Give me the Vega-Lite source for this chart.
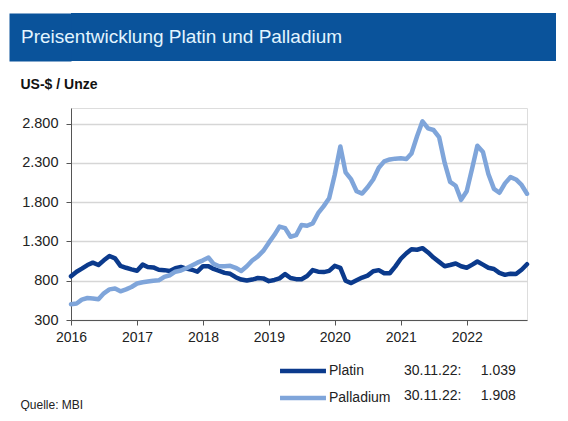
{
  "$schema": "https://vega.github.io/schema/vega-lite/v6.json",
  "background": "white",
  "padding": {"left": 8, "top": 13, "right": 0, "bottom": 0},
  "config": {
    "font": "Liberation Sans",
    "locale": {"number": {"decimal": ",", "thousands": ".", "grouping": [3], "currency": ["", ""]}},
    "concat": {"spacing": 15}
  },
  "datasets": {
    "kurse": [
      {"monat": "2016-01-01", "Platin": 856, "Palladium": 500},
      {"monat": "2016-02-01", "Platin": 915, "Palladium": 510},
      {"monat": "2016-03-01", "Platin": 955, "Palladium": 560},
      {"monat": "2016-04-01", "Platin": 1000, "Palladium": 580},
      {"monat": "2016-05-01", "Platin": 1030, "Palladium": 575},
      {"monat": "2016-06-01", "Platin": 1000, "Palladium": 565},
      {"monat": "2016-07-01", "Platin": 1060, "Palladium": 640},
      {"monat": "2016-08-01", "Platin": 1115, "Palladium": 690},
      {"monat": "2016-09-01", "Platin": 1085, "Palladium": 700},
      {"monat": "2016-10-01", "Platin": 990, "Palladium": 665},
      {"monat": "2016-11-01", "Platin": 965, "Palladium": 690},
      {"monat": "2016-12-01", "Platin": 945, "Palladium": 720},
      {"monat": "2017-01-01", "Platin": 928, "Palladium": 765},
      {"monat": "2017-02-01", "Platin": 1005, "Palladium": 780},
      {"monat": "2017-03-01", "Platin": 975, "Palladium": 790},
      {"monat": "2017-04-01", "Platin": 970, "Palladium": 800},
      {"monat": "2017-05-01", "Platin": 940, "Palladium": 805},
      {"monat": "2017-06-01", "Platin": 935, "Palladium": 850},
      {"monat": "2017-07-01", "Platin": 925, "Palladium": 870},
      {"monat": "2017-08-01", "Platin": 960, "Palladium": 915},
      {"monat": "2017-09-01", "Platin": 975, "Palladium": 930},
      {"monat": "2017-10-01", "Platin": 955, "Palladium": 960},
      {"monat": "2017-11-01", "Platin": 940, "Palladium": 995},
      {"monat": "2017-12-01", "Platin": 915, "Palladium": 1030},
      {"monat": "2018-01-01", "Platin": 985, "Palladium": 1060},
      {"monat": "2018-02-01", "Platin": 985, "Palladium": 1095},
      {"monat": "2018-03-01", "Platin": 950, "Palladium": 1015},
      {"monat": "2018-04-01", "Platin": 925, "Palladium": 985},
      {"monat": "2018-05-01", "Platin": 900, "Palladium": 985},
      {"monat": "2018-06-01", "Platin": 888, "Palladium": 990},
      {"monat": "2018-07-01", "Platin": 845, "Palladium": 965},
      {"monat": "2018-08-01", "Platin": 815, "Palladium": 925},
      {"monat": "2018-09-01", "Platin": 802, "Palladium": 985},
      {"monat": "2018-10-01", "Platin": 815, "Palladium": 1057},
      {"monat": "2018-11-01", "Platin": 835, "Palladium": 1110},
      {"monat": "2018-12-01", "Platin": 830, "Palladium": 1180},
      {"monat": "2019-01-01", "Platin": 795, "Palladium": 1285},
      {"monat": "2019-02-01", "Platin": 810, "Palladium": 1385},
      {"monat": "2019-03-01", "Platin": 830, "Palladium": 1490},
      {"monat": "2019-04-01", "Platin": 885, "Palladium": 1470},
      {"monat": "2019-05-01", "Platin": 835, "Palladium": 1360},
      {"monat": "2019-06-01", "Platin": 820, "Palladium": 1380},
      {"monat": "2019-07-01", "Platin": 820, "Palladium": 1510},
      {"monat": "2019-08-01", "Platin": 860, "Palladium": 1500},
      {"monat": "2019-09-01", "Platin": 935, "Palladium": 1530},
      {"monat": "2019-10-01", "Platin": 915, "Palladium": 1660},
      {"monat": "2019-11-01", "Platin": 910, "Palladium": 1750},
      {"monat": "2019-12-01", "Platin": 925, "Palladium": 1850},
      {"monat": "2020-01-01", "Platin": 990, "Palladium": 2150},
      {"monat": "2020-02-01", "Platin": 965, "Palladium": 2510},
      {"monat": "2020-03-01", "Platin": 800, "Palladium": 2180},
      {"monat": "2020-04-01", "Platin": 770, "Palladium": 2090},
      {"monat": "2020-05-01", "Platin": 805, "Palladium": 1940},
      {"monat": "2020-06-01", "Platin": 840, "Palladium": 1910},
      {"monat": "2020-07-01", "Platin": 865, "Palladium": 1990},
      {"monat": "2020-08-01", "Platin": 920, "Palladium": 2090},
      {"monat": "2020-09-01", "Platin": 935, "Palladium": 2240},
      {"monat": "2020-10-01", "Platin": 895, "Palladium": 2320},
      {"monat": "2020-11-01", "Platin": 895, "Palladium": 2345},
      {"monat": "2020-12-01", "Platin": 980, "Palladium": 2355},
      {"monat": "2021-01-01", "Platin": 1080, "Palladium": 2360},
      {"monat": "2021-02-01", "Platin": 1150, "Palladium": 2350},
      {"monat": "2021-03-01", "Platin": 1200, "Palladium": 2420},
      {"monat": "2021-04-01", "Platin": 1195, "Palladium": 2640},
      {"monat": "2021-05-01", "Platin": 1215, "Palladium": 2830},
      {"monat": "2021-06-01", "Platin": 1160, "Palladium": 2740},
      {"monat": "2021-07-01", "Platin": 1095, "Palladium": 2720},
      {"monat": "2021-08-01", "Platin": 1040, "Palladium": 2630},
      {"monat": "2021-09-01", "Platin": 985, "Palladium": 2300},
      {"monat": "2021-10-01", "Platin": 1000, "Palladium": 2060},
      {"monat": "2021-11-01", "Platin": 1020, "Palladium": 2010},
      {"monat": "2021-12-01", "Platin": 985, "Palladium": 1830},
      {"monat": "2022-01-01", "Platin": 965, "Palladium": 1940},
      {"monat": "2022-02-01", "Platin": 1005, "Palladium": 2240},
      {"monat": "2022-03-01", "Platin": 1045, "Palladium": 2520},
      {"monat": "2022-04-01", "Platin": 1005, "Palladium": 2440},
      {"monat": "2022-05-01", "Platin": 965, "Palladium": 2160},
      {"monat": "2022-06-01", "Platin": 950, "Palladium": 1970},
      {"monat": "2022-07-01", "Platin": 900, "Palladium": 1920},
      {"monat": "2022-08-01", "Platin": 875, "Palladium": 2040},
      {"monat": "2022-09-01", "Platin": 890, "Palladium": 2120},
      {"monat": "2022-10-01", "Platin": 885, "Palladium": 2090},
      {"monat": "2022-11-01", "Platin": 940, "Palladium": 2020},
      {"monat": "2022-12-01", "Platin": 1010, "Palladium": 1908}
    ],
    "stand": [
      {"serie": "Platin", "stand": "30.11.22:\u00a0\u00a0\u00a0\u00a0\u00a01.039"},
      {"serie": "Palladium", "stand": "30.11.22:\u00a0\u00a0\u00a0\u00a0\u00a01.908"}
    ]
  },
  "vconcat": [
    {
      "width": 485,
      "height": 48,
      "view": {"fill": "#0A539B", "stroke": null},
      "data": {"values": [{"titel": "Preisentwicklung Platin und Palladium"}]},
      "mark": {"type": "text", "align": "left", "baseline": "middle", "x": -50, "fontSize": 19, "color": "#E2F5FF"},
      "encoding": {
        "text": {"field": "titel", "type": "nominal"},
        "y": {
          "datum": 0,
          "type": "quantitative",
          "scale": {"domain": [-1, 1]},
          "axis": {
            "title": null, "labels": false, "ticks": false, "grid": false,
            "domainColor": "#0A539B", "domainWidth": 62, "domainCap": "butt",
            "offset": 31, "minExtent": 31
          }
        }
      }
    },
    {
      "width": 456,
      "height": 212,
      "data": {"name": "kurse"},
      "transform": [
        {"fold": ["Platin", "Palladium"], "as": ["serie", "preis"]},
        {"lookup": "serie", "from": {"data": {"name": "stand"}, "key": "serie", "fields": ["stand"]}}
      ],
      "mark": {"type": "line", "strokeWidth": 4.5, "strokeJoin": "round", "strokeCap": "round"},
      "encoding": {
        "x": {
          "field": "monat",
          "type": "temporal",
          "scale": {"type": "utc", "domain": [{"year": 2016, "month": 1, "date": 1, "utc": true}, {"year": 2022, "month": 12, "date": 1, "utc": true}]},
          "axis": {
            "title": "Quelle: MBI", "titleX": -51, "titleY": 84, "titleAlign": "left", "titleBaseline": "middle",
            "titleFontSize": 12, "titleFontWeight": "normal", "titleColor": "#222",
            "format": "%Y", "tickCount": "year", "labelFontSize": 14, "labelColor": "#222", "labelPadding": 5,
            "labelFlush": false, "tickSize": 5, "tickColor": "#555", "domainColor": "#555", "grid": false
          }
        },
        "y": {
          "field": "preis",
          "type": "quantitative",
          "scale": {"domain": [300, 3000], "nice": false, "zero": false},
          "axis": {
            "title": "US-$ / Unze", "titleAngle": 0, "titleX": -51, "titleY": -20, "titleAlign": "left", "titleBaseline": "alphabetic",
            "titleFontSize": 14, "titleFontWeight": "bold", "titleColor": "#111",
            "values": [300, 800, 1300, 1800, 2300, 2800], "format": ",d", "labelFontSize": 14.5, "labelColor": "#222",
            "labelPadding": 8, "tickSize": 5, "tickColor": "#555", "domainColor": "#555",
            "gridColor": "#D6D6D6", "gridWidth": 1.5, "minExtent": 62
          }
        },
        "color": {
          "field": "serie",
          "type": "nominal",
          "scale": {"domain": ["Platin", "Palladium"], "range": ["#0B3A8C", "#7FA5DA"]},
          "legend": {
            "orient": "none", "legendX": 224, "legendY": 350, "title": null, "padding": 0,
            "symbolType": "M-4,0H4", "symbolSize": 132, "symbolStrokeWidth": 4.5, "rowPadding": 9,
            "labelFontSize": 14, "labelColor": "#222", "labelOffset": 18
          }
        },
        "opacity": {
          "field": "stand",
          "type": "nominal",
          "scale": {"domain": ["30.11.22:\u00a0\u00a0\u00a0\u00a0\u00a01.039", "30.11.22:\u00a0\u00a0\u00a0\u00a0\u00a01.908"], "range": [1, 1]},
          "legend": {
            "orient": "none", "legendX": 319, "legendY": 351, "title": null, "padding": 0,
            "symbolSize": 0, "symbolOpacity": 0, "symbolStrokeWidth": 0, "labelOffset": 0, "rowPadding": 11,
            "labelFontSize": 14, "labelColor": "#222"
          }
        }
      }
    }
  ]
}
